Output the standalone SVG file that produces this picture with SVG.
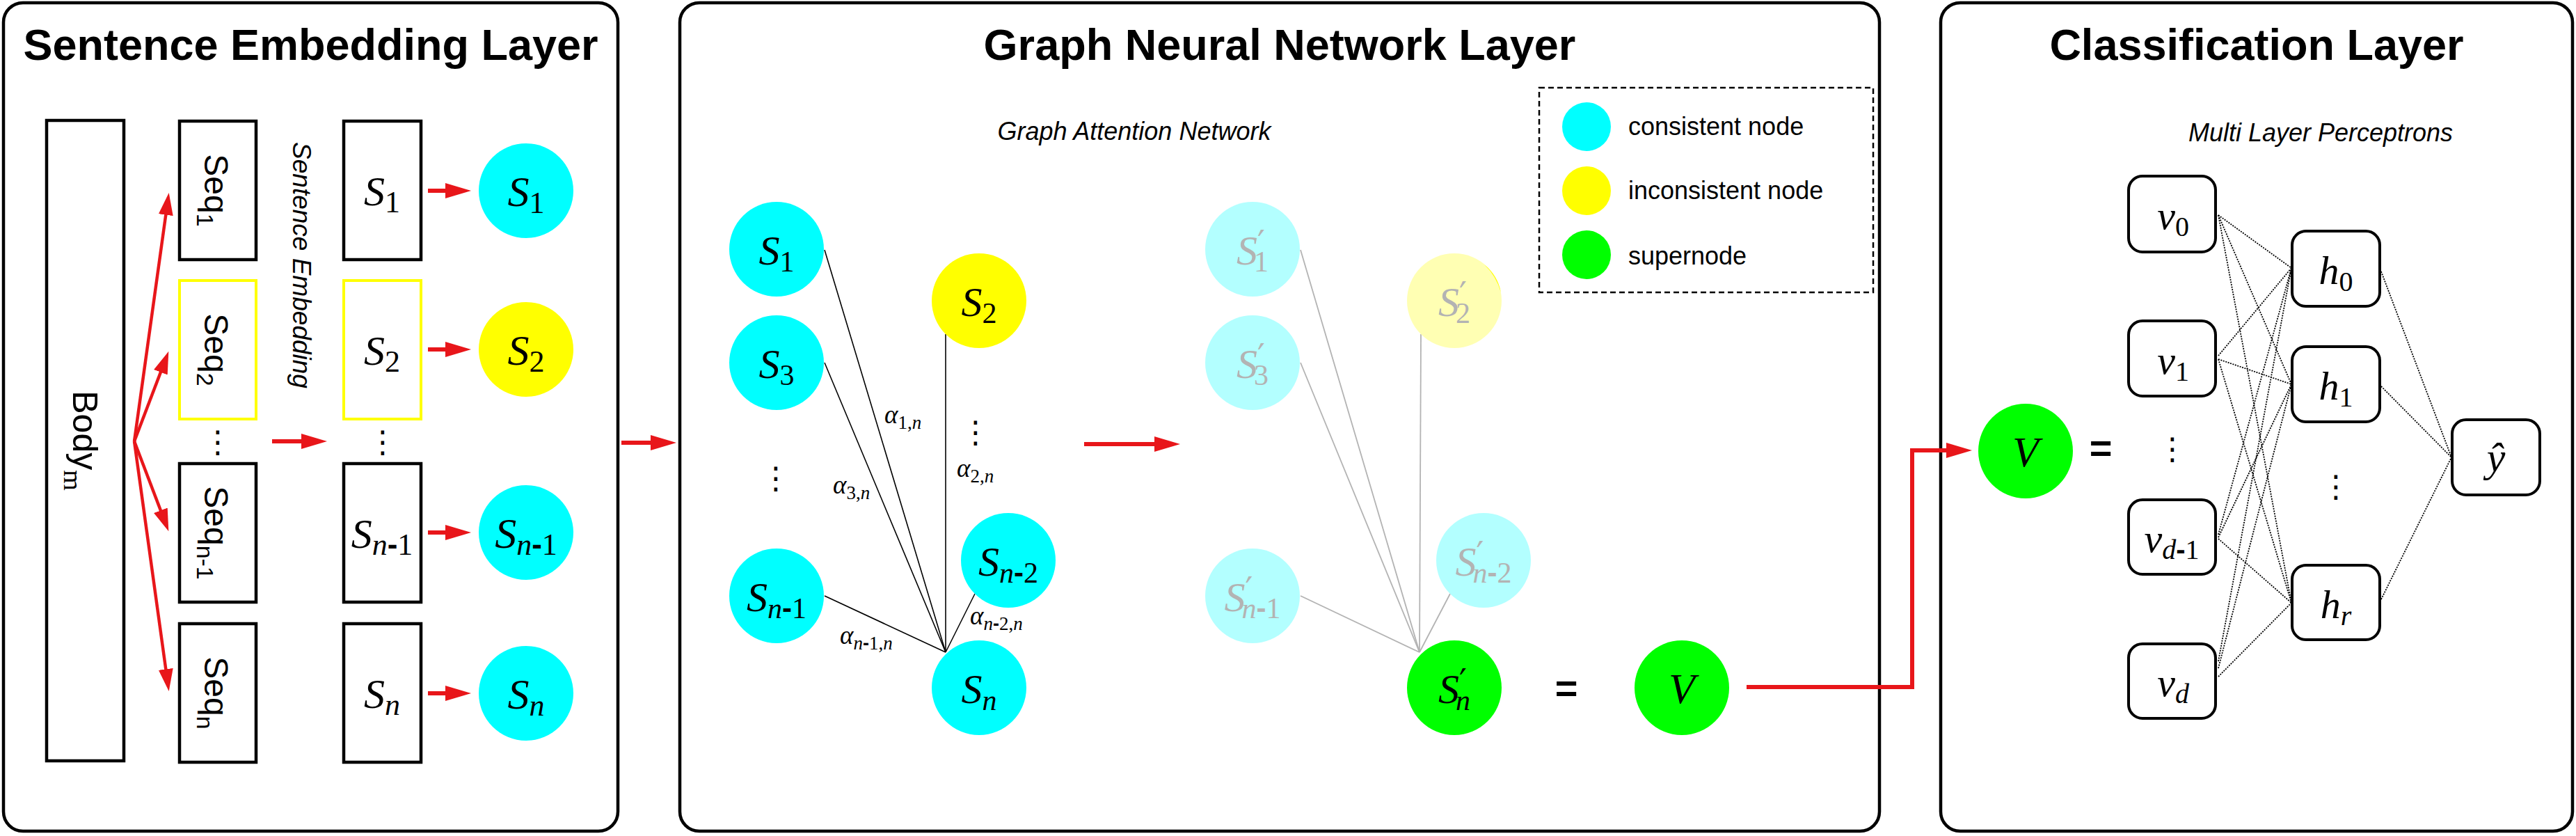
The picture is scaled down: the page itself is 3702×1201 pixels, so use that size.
<svg xmlns="http://www.w3.org/2000/svg" width="3702" height="1201" viewBox="0 0 3702 1201">
<style>
.panel{fill:#fff;stroke:#000;stroke-width:4.5}
.title{font-family:"Liberation Sans",Arial,sans-serif;font-weight:bold;font-size:63px;text-anchor:middle}
.subt{font-family:"Liberation Sans",Arial,sans-serif;font-style:italic;font-size:36px;text-anchor:middle}
.leg{font-family:"Liberation Sans",Arial,sans-serif;font-size:36px}
.sans{font-family:"Liberation Sans",Arial,sans-serif}
.m{font-family:"Liberation Serif","DejaVu Serif",serif;font-style:italic}
.d{font-style:normal}
.pr{font-family:"DejaVu Serif","Liberation Serif",serif;font-style:normal}
.hy{font-family:"Liberation Sans",Arial,sans-serif;font-weight:bold;font-style:normal}
.box{fill:#fff;stroke:#000;stroke-width:4.5}
.ybox{fill:#fff;stroke:#ff0;stroke-width:4}
.mbox{fill:#fff;stroke:#000;stroke-width:4}
.cy{fill:#0ff}.ye{fill:#ff0}.gr{fill:#0f0}.pc{fill:#b3ffff}.py{fill:#ffffb3}
.red{stroke:#e8161a;stroke-width:6;fill:none}
.fan{stroke:#e8161a;stroke-width:4.5;fill:none}
.gat{stroke:#000;stroke-width:1.6}
.gatf{stroke:#b3b3b3;stroke-width:1.8}
.mlp{stroke:#000;stroke-width:1.8;stroke-dasharray:2 1.6}
.dots{font-family:"DejaVu Sans",sans-serif;font-size:44px;text-anchor:middle}
.eq{font-family:"Liberation Sans",Arial,sans-serif;font-weight:bold;font-size:56px;text-anchor:middle}
.fade{fill:#b3b3b3}
</style>
<defs>
<marker id="ah" markerUnits="userSpaceOnUse" markerWidth="40" markerHeight="24" refX="18" refY="11" orient="auto"><path d="M0,0 L37,11 L0,22 z" fill="#e8161a"/></marker>
<marker id="ahf" markerUnits="userSpaceOnUse" markerWidth="36" markerHeight="24" refX="16" refY="10.5" orient="auto"><path d="M0,0 L32,10.5 L0,21 z" fill="#e8161a"/></marker>
</defs>

<g id="panel-sentence">
<rect class="panel" x="5" y="4" width="883" height="1190" rx="28"/>
<text class="title" x="446.5" y="86">Sentence Embedding Layer</text>
</g>
<g id="panel-gnn">
<rect class="panel" x="977" y="4" width="1724" height="1190" rx="28"/>
<text class="title" x="1839" y="86">Graph Neural Network Layer</text>
<text class="subt" x="1630" y="201">Graph Attention Network</text>
</g>
<g id="panel-cls">
<rect class="panel" x="2789" y="4" width="908" height="1190" rx="28"/>
<text class="title" x="3243" y="86">Classification Layer</text>
<text class="subt" x="3335" y="203">Multi Layer Perceptrons</text>
</g>

<g id="connectors">
<line class="fan" x1="193" y1="634" x2="240.5" y2="292.8" marker-end="url(#ahf)"/>
<line class="fan" x1="193" y1="634" x2="236.6" y2="519.8" marker-end="url(#ahf)"/>
<line class="fan" x1="193" y1="634" x2="236.6" y2="748.2" marker-end="url(#ahf)"/>
<line class="fan" x1="193" y1="634" x2="240.5" y2="977.2" marker-end="url(#ahf)"/>
<line class="red" x1="391" y1="634" x2="451" y2="634" marker-end="url(#ah)"/>
<line class="red" x1="615" y1="274" x2="658" y2="274" marker-end="url(#ah)"/>
<line class="red" x1="615" y1="502" x2="658" y2="502" marker-end="url(#ah)"/>
<line class="red" x1="615" y1="765" x2="658" y2="765" marker-end="url(#ah)"/>
<line class="red" x1="615" y1="996" x2="658" y2="996" marker-end="url(#ah)"/>
<line class="red" x1="893" y1="636" x2="953" y2="636" marker-end="url(#ah)"/>
<line class="red" x1="1558" y1="638" x2="1677" y2="638" marker-end="url(#ah)"/>
<polyline class="red" stroke-width="7" points="2510,987 2748,987 2748,647 2815,647" marker-end="url(#ah)"/>
<line class="gat" x1="1185" y1="359" x2="1359" y2="937"/>
<line class="gat" x1="1185" y1="521" x2="1359" y2="937"/>
<line class="gat" x1="1359" y1="480" x2="1359" y2="937"/>
<line class="gat" x1="1185" y1="856" x2="1359" y2="937"/>
<line class="gat" x1="1401" y1="853" x2="1359" y2="937"/>
<line class="gatf" x1="1869" y1="359" x2="2040" y2="937"/>
<line class="gatf" x1="1869" y1="521" x2="2040" y2="937"/>
<line class="gatf" x1="2042" y1="480" x2="2040" y2="937"/>
<line class="gatf" x1="1869" y1="856" x2="2040" y2="937"/>
<line class="gatf" x1="2084" y1="853" x2="2040" y2="937"/>
<g class="mlp">
<line x1="3188" y1="309" x2="3293" y2="385"/><line x1="3188" y1="309" x2="3293" y2="552"/><line x1="3188" y1="309" x2="3293" y2="866"/>
<line x1="3188" y1="511" x2="3293" y2="385"/><line x1="3188" y1="516" x2="3293" y2="552"/><line x1="3188" y1="516" x2="3293" y2="866"/>
<line x1="3188" y1="768" x2="3293" y2="385"/><line x1="3188" y1="772" x2="3293" y2="552"/><line x1="3188" y1="774" x2="3293" y2="866"/>
<line x1="3188" y1="950" x2="3293" y2="385"/><line x1="3188" y1="960" x2="3293" y2="552"/><line x1="3188" y1="972" x2="3293" y2="866"/>
<line x1="3422" y1="390" x2="3523" y2="657"/><line x1="3422" y1="555" x2="3523" y2="657"/><line x1="3422" y1="861" x2="3523" y2="657"/>
</g>
</g>

<!-- Panel 1 nodes -->
<g id="body">
<rect class="box" x="67" y="173" width="111" height="920"/>
<text class="sans" transform="translate(122.5,633) rotate(90)" x="0" y="18" font-size="50" text-anchor="middle">Body<tspan class="m d" font-size="38" dy="13">m</tspan></text>
</g>
<g id="seq1"><rect class="box" x="258" y="174" width="110" height="199"/>
<text class="sans" transform="translate(313,273.5) rotate(90)" y="19" font-size="48" text-anchor="middle">Seq<tspan font-size="34" dy="11">1</tspan></text></g>
<g id="seq2"><rect class="ybox" x="258" y="403" width="110" height="199"/>
<text class="sans" transform="translate(313,502.5) rotate(90)" y="19" font-size="48" text-anchor="middle">Seq<tspan font-size="34" dy="11">2</tspan></text></g>
<g id="seqn1"><rect class="box" x="258" y="666" width="110" height="199"/>
<text class="sans" transform="translate(313,765.5) rotate(90)" y="19" font-size="48" text-anchor="middle">Seq<tspan font-size="34" dy="11">n-1</tspan></text></g>
<g id="seqn"><rect class="box" x="258" y="896" width="110" height="199"/>
<text class="sans" transform="translate(313,995.5) rotate(90)" y="19" font-size="48" text-anchor="middle">Seq<tspan font-size="34" dy="11">n</tspan></text></g>
<text class="dots" x="313" y="650">⋮</text>
<text class="sans" transform="translate(421,381) rotate(90)" font-size="37" font-style="italic" text-anchor="middle">Sentence Embedding</text>

<g id="sbox1"><rect class="box" x="494" y="174" width="111" height="199"/>
<text class="m" x="549" y="295" font-size="60" text-anchor="middle">S<tspan class="d" font-size="44" dy="10">1</tspan></text></g>
<g id="sbox2"><rect class="ybox" x="494" y="403" width="111" height="199"/>
<text class="m" x="549" y="524" font-size="60" text-anchor="middle">S<tspan class="d" font-size="44" dy="10">2</tspan></text></g>
<g id="sboxn1"><rect class="box" x="494" y="666" width="111" height="199"/>
<text class="m" x="549" y="787" font-size="60" text-anchor="middle">S<tspan font-size="44" dy="10">n</tspan><tspan class="hy" font-size="44">-</tspan><tspan class="d" font-size="44">1</tspan></text></g>
<g id="sboxn"><rect class="box" x="494" y="896" width="111" height="199"/>
<text class="m" x="549" y="1017" font-size="60" text-anchor="middle">S<tspan font-size="44" dy="10">n</tspan></text></g>
<text class="dots" x="550" y="650">⋮</text>

<g id="c1"><circle class="cy" cx="756" cy="274" r="68"/>
<text class="m" x="756" y="296" font-size="62" text-anchor="middle">S<tspan class="d" font-size="44" dy="10">1</tspan></text></g>
<g id="c2"><circle class="ye" cx="756" cy="502" r="68"/>
<text class="m" x="756" y="524" font-size="62" text-anchor="middle">S<tspan class="d" font-size="44" dy="10">2</tspan></text></g>
<g id="cn1"><circle class="cy" cx="756" cy="765" r="68"/>
<text class="m" x="756" y="787" font-size="62" text-anchor="middle">S<tspan font-size="44" dy="10">n</tspan><tspan class="hy" font-size="44">-</tspan><tspan class="d" font-size="44">1</tspan></text></g>
<g id="cn"><circle class="cy" cx="756" cy="996" r="68"/>
<text class="m" x="756" y="1018" font-size="62" text-anchor="middle">S<tspan font-size="44" dy="10">n</tspan></text></g>

<!-- Panel 2 GAT -->
<g id="g-s1"><circle class="cy" cx="1116" cy="358" r="68"/>
<text class="m" x="1116" y="380" font-size="60" text-anchor="middle">S<tspan class="d" font-size="42" dy="10">1</tspan></text></g>
<g id="g-s3"><circle class="cy" cx="1116" cy="521" r="68"/>
<text class="m" x="1116" y="543" font-size="60" text-anchor="middle">S<tspan class="d" font-size="42" dy="10">3</tspan></text></g>
<g id="g-s2"><circle class="ye" cx="1407" cy="432" r="68"/>
<text class="m" x="1407" y="454" font-size="60" text-anchor="middle">S<tspan class="d" font-size="42" dy="10">2</tspan></text></g>
<g id="g-sn1"><circle class="cy" cx="1116" cy="856" r="68"/>
<text class="m" x="1116" y="878" font-size="60" text-anchor="middle">S<tspan font-size="42" dy="10">n</tspan><tspan class="hy" font-size="42">-</tspan><tspan class="d" font-size="42">1</tspan></text></g>
<g id="g-sn2"><circle class="cy" cx="1449" cy="805" r="68"/>
<text class="m" x="1449" y="827" font-size="60" text-anchor="middle">S<tspan font-size="42" dy="10">n</tspan><tspan class="hy" font-size="42">-</tspan><tspan class="d" font-size="42">2</tspan></text></g>
<g id="g-sn"><circle class="cy" cx="1407" cy="988" r="68"/>
<text class="m" x="1407" y="1010" font-size="60" text-anchor="middle">S<tspan font-size="42" dy="10">n</tspan></text></g>
<text class="dots" x="1115" y="702">⋮</text>
<text class="dots" x="1402" y="636">⋮</text>

<g id="alpha-labels" class="m" font-size="37">
<text x="1271" y="608">α<tspan class="d" font-size="27" dy="8">1,</tspan><tspan font-size="27">n</tspan></text>
<text x="1197" y="709">α<tspan class="d" font-size="27" dy="8">3,</tspan><tspan font-size="27">n</tspan></text>
<text x="1375" y="685">α<tspan class="d" font-size="27" dy="8">2,</tspan><tspan font-size="27">n</tspan></text>
<text x="1207" y="925">α<tspan font-size="27" dy="8">n</tspan><tspan class="hy" font-size="27">-</tspan><tspan class="d" font-size="27">1,</tspan><tspan font-size="27">n</tspan></text>
<text x="1394" y="897">α<tspan font-size="27" dy="8">n</tspan><tspan class="hy" font-size="27">-</tspan><tspan class="d" font-size="27">2,</tspan><tspan font-size="27">n</tspan></text>
</g>

<g id="f-s1"><circle class="pc" cx="1800" cy="358" r="68"/>
<text class="m fade" x="1800" y="380" font-size="60" text-anchor="middle">S<tspan class="pr" font-size="48" dy="-14">′</tspan><tspan class="d" font-size="42" dx="-16" dy="24">1</tspan></text></g>
<g id="f-s3"><circle class="pc" cx="1800" cy="521" r="68"/>
<text class="m fade" x="1800" y="543" font-size="60" text-anchor="middle">S<tspan class="pr" font-size="48" dy="-14">′</tspan><tspan class="d" font-size="42" dx="-16" dy="24">3</tspan></text></g>
<g id="f-s2"><circle class="py" cx="2090" cy="432" r="68"/>
<path d="M2133,380 A68,68 0 0 1 2157,420 Q2150,396 2133,380 Z" fill="#ff0"/>
<text class="m fade" x="2090" y="454" font-size="60" text-anchor="middle">S<tspan class="pr" font-size="48" dy="-14">′</tspan><tspan class="d" font-size="42" dx="-16" dy="24">2</tspan></text></g>
<g id="f-sn1"><circle class="pc" cx="1800" cy="856" r="68"/>
<text class="m fade" x="1800" y="878" font-size="60" text-anchor="middle">S<tspan class="pr" font-size="48" dy="-14">′</tspan><tspan font-size="42" dx="-16" dy="24">n</tspan><tspan class="hy" font-size="42">-</tspan><tspan class="d" font-size="42">1</tspan></text></g>
<g id="f-sn2"><circle class="pc" cx="2132" cy="805" r="68"/>
<text class="m fade" x="2132" y="827" font-size="60" text-anchor="middle">S<tspan class="pr" font-size="48" dy="-14">′</tspan><tspan font-size="42" dx="-16" dy="24">n</tspan><tspan class="hy" font-size="42">-</tspan><tspan class="d" font-size="42">2</tspan></text></g>
<g id="f-sn"><circle class="gr" cx="2090" cy="988" r="68"/>
<text class="m" x="2090" y="1010" font-size="60" text-anchor="middle">S<tspan class="pr" font-size="48" dy="-14">′</tspan><tspan font-size="42" dx="-16" dy="24">n</tspan></text></g>
<text class="eq" x="2251" y="1008">=</text>
<g id="v-gnn"><circle class="gr" cx="2417" cy="988" r="68"/>
<text class="m" x="2417" y="1010" font-size="62" text-anchor="middle">V</text></g>

<g id="legend">
<rect x="2212" y="126" width="480" height="294" fill="none" stroke="#000" stroke-width="2.5" stroke-dasharray="8 5"/>
<circle class="cy" cx="2280" cy="182" r="35"/>
<circle class="ye" cx="2280" cy="274" r="35"/>
<circle class="gr" cx="2280" cy="366" r="35"/>
<text class="leg" x="2340" y="194">consistent node</text>
<text class="leg" x="2340" y="286">inconsistent node</text>
<text class="leg" x="2340" y="380">supernode</text>
</g>

<!-- Panel 3 -->
<g id="v-cls"><circle class="gr" cx="2911" cy="648" r="68"/>
<text class="m" x="2911" y="670" font-size="62" text-anchor="middle">V</text></g>
<text class="eq" x="3019" y="663">=</text>
<g id="v0"><rect class="mbox" x="3059" y="253" width="125" height="109" rx="20"/>
<text class="m" x="3123" y="329" font-size="58" text-anchor="middle">v<tspan class="d" font-size="40" dy="10">0</tspan></text></g>
<g id="v1"><rect class="mbox" x="3059" y="461" width="125" height="108" rx="20"/>
<text class="m" x="3123" y="537" font-size="58" text-anchor="middle">v<tspan class="d" font-size="40" dy="10">1</tspan></text></g>
<text class="dots" x="3122" y="660">⋮</text>
<g id="vd1"><rect class="mbox" x="3059" y="718" width="125" height="107" rx="20"/>
<text class="m" x="3121" y="793" font-size="58" text-anchor="middle">v<tspan font-size="40" dy="10">d</tspan><tspan class="hy" font-size="40">-</tspan><tspan class="d" font-size="40">1</tspan></text></g>
<g id="vd"><rect class="mbox" x="3059" y="925" width="125" height="107" rx="20"/>
<text class="m" x="3123" y="1000" font-size="58" text-anchor="middle">v<tspan font-size="40" dy="10">d</tspan></text></g>
<g id="h0"><rect class="mbox" x="3294" y="332" width="126" height="108" rx="20"/>
<text class="m" x="3357" y="408" font-size="58" text-anchor="middle">h<tspan class="d" font-size="40" dy="10">0</tspan></text></g>
<g id="h1"><rect class="mbox" x="3294" y="498" width="126" height="108" rx="20"/>
<text class="m" x="3357" y="574" font-size="58" text-anchor="middle">h<tspan class="d" font-size="40" dy="10">1</tspan></text></g>
<text class="dots" x="3357" y="714">⋮</text>
<g id="hr"><rect class="mbox" x="3294" y="812" width="126" height="107" rx="20"/>
<text class="m" x="3357" y="888" font-size="58" text-anchor="middle">h<tspan font-size="40" dy="10">r</tspan></text></g>
<g id="yhat"><rect class="mbox" x="3524" y="603" width="126" height="108" rx="20"/>
<text class="m" x="3587" y="677" font-size="60" text-anchor="middle">ŷ</text></g>
</svg>
